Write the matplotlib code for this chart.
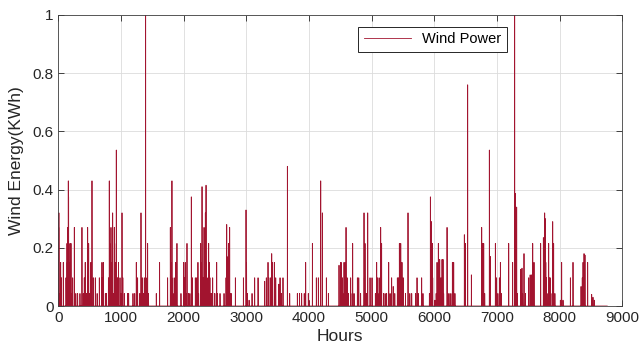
import numpy as np
import matplotlib
matplotlib.use("Agg")
import matplotlib.pyplot as plt

plt.rcParams['font.family'] = ['Liberation Sans', 'DejaVu Sans']

# hourly series over one year: zero except the spikes
n_hours = 8760
spike_hours = [
    6, 10, 20, 38, 50, 80, 123, 139, 145, 150, 160, 165, 175, 187, 195, 203, 210, 230, 256, 280,
    309, 346, 378, 400, 415, 430, 450, 469, 475, 485, 500, 520, 538, 560, 591, 620, 655, 697, 700, 719,
    751, 770, 800, 814, 820, 830, 841, 850, 860, 868, 880, 894, 900, 910, 926, 935, 948, 960, 985, 1000,
    1017, 1030, 1054, 1107,
    1123, 1192, 1220, 1245, 1266, 1300, 1320, 1341, 1360, 1373, 1394, 1400, 1426, 1440, 1564, 1617,
    1745, 1788, 1800, 1810, 1814, 1830, 1850, 1873, 1880, 1894, 1958, 2000, 2010, 2025, 2040, 2054,
    2080, 2100, 2123, 2140, 2187, 2210, 2229,
    2240, 2272, 2285, 2294, 2310, 2326, 2335, 2347, 2358, 2365, 2375, 2385, 2400, 2410, 2420, 2440,
    2450, 2464, 2495, 2520, 2528, 2540, 2581, 2645, 2677, 2688, 2690, 2700, 2709, 2715, 2720, 2735,
    2745, 2760, 2826, 2954, 2996, 3005, 3020, 3045, 3092, 3134, 3188, 3294, 3320, 3347, 3360,
    3390, 3406, 3420, 3448, 3470, 3520, 3539, 3560, 3586, 3656, 3693, 3815, 3850, 3884, 3925, 3948,
    3990, 4000, 4055, 4118, 4150, 4188, 4214, 4278, 4310, 4480, 4507,
    4512, 4535, 4540, 4560, 4570, 4580, 4592, 4600, 4610, 4630, 4666, 4690, 4698, 4720, 4773, 4795,
    4825, 4879, 4885, 4895, 4900, 4920, 4938, 4975, 5007, 5060, 5081, 5090, 5100, 5120, 5145, 5150,
    5160, 5190, 5215, 5240, 5273, 5295, 5320, 5345, 5370, 5411, 5430, 5443, 5450, 5465, 5470, 5485,
    5505, 5540, 5581, 5610, 5640,
    5703, 5725, 5745, 5799, 5820, 5922, 5938, 5940, 5954, 5960, 5969, 5975, 6010, 6030, 6044, 6050,
    6065, 6075, 6087, 6090, 6105, 6124, 6130, 6140, 6150, 6204, 6215, 6235, 6265, 6289, 6295, 6310,
    6330, 6480, 6497, 6533, 6592, 6757,
    6770, 6789, 6805, 6879, 6895, 6975, 6995, 7015, 7039, 7055, 7070, 7188, 7251, 7283, 7290, 7294,
    7300, 7310, 7315, 7325, 7379, 7400, 7410, 7432, 7455, 7507, 7530, 7550, 7560, 7571, 7592, 7698,
    7741, 7750, 7762, 7765, 7772, 7780, 7790, 7800, 7826, 7835, 7850, 7880, 7890,
    7905, 7925, 8012, 8033, 8055, 8172, 8214, 8342, 8362, 8374, 8390, 8405, 8448, 8512, 8533, 8555,
]
spike_values = [
    0.27, 0.32, 0.043, 0.15, 0.097, 0.15, 0.097, 0.215, 0.15, 0.27, 0.43, 0.375, 0.15, 0.215, 0.097, 0.215, 0.043, 0.097, 0.27, 0.043,
    0.043, 0.043, 0.27, 0.043, 0.097, 0.15, 0.043, 0.27, 0.097, 0.215, 0.043, 0.15, 0.43, 0.097, 0.097, 0.043, 0.097, 0.15, 0.097, 0.15,
    0.043, 0.043, 0.097, 0.43, 0.215, 0.15, 0.27, 0.097, 0.15, 0.32, 0.043, 0.27, 0.215, 0.15, 0.536, 0.097, 0.097, 0.15, 0.097, 0.043,
    0.32, 0.097, 0.043, 0.043,
    0.043, 0.043, 0.043, 0.15, 0.097, 0.043, 0.32, 0.097, 0.043, 0.097, 1.0, 0.097, 0.215, 0.043, 0.043, 0.15,
    0.097, 0.27, 0.15, 0.097, 0.43, 0.043, 0.097, 0.15, 0.097, 0.215, 0.043, 0.15, 0.097, 0.15, 0.043, 0.215,
    0.043, 0.043, 0.375, 0.097, 0.097, 0.097, 0.15,
    0.043, 0.215, 0.15, 0.41, 0.097, 0.27, 0.215, 0.32, 0.415, 0.15, 0.097, 0.043, 0.215, 0.15, 0.097, 0.043,
    0.043, 0.097, 0.043, 0.043, 0.15, 0.043, 0.043, 0.043, 0.097, 0.28, 0.097, 0.15, 0.17, 0.215, 0.097, 0.27,
    0.043, 0.043, 0.097, 0.097, 0.33, 0.15, 0.043, 0.02, 0.043, 0.097, 0.097, 0.085, 0.097, 0.15, 0.097,
    0.097, 0.18, 0.15, 0.15, 0.097, 0.075, 0.097, 0.043, 0.097, 0.48, 0.043, 0.043, 0.043, 0.043, 0.043, 0.15,
    0.043, 0.02, 0.215, 0.097, 0.097, 0.43, 0.32, 0.097, 0.043, 0.14, 0.15,
    0.15, 0.097, 0.043, 0.15, 0.097, 0.15, 0.27, 0.043, 0.097, 0.043, 0.097, 0.043, 0.215, 0.043, 0.097, 0.097,
    0.043, 0.32, 0.097, 0.215, 0.043, 0.043, 0.32, 0.097, 0.097, 0.043, 0.15, 0.097, 0.043, 0.097, 0.27, 0.097,
    0.215, 0.043, 0.043, 0.043, 0.15, 0.043, 0.097, 0.067, 0.043, 0.097, 0.097, 0.215, 0.15, 0.215, 0.043, 0.15,
    0.097, 0.043, 0.32, 0.043, 0.043,
    0.043, 0.097, 0.043, 0.097, 0.043, 0.043, 0.375, 0.215, 0.29, 0.097, 0.215, 0.097, 0.02, 0.043, 0.15, 0.043,
    0.215, 0.097, 0.16, 0.043, 0.097, 0.16, 0.097, 0.16, 0.043, 0.27, 0.043, 0.043, 0.043, 0.15, 0.097, 0.15,
    0.043, 0.245, 0.215, 0.76, 0.107, 0.27,
    0.215, 0.215, 0.043, 0.536, 0.17, 0.215, 0.097, 0.043, 0.097, 0.15, 0.043, 0.215, 0.15, 1.0, 0.043, 0.387,
    0.215, 0.097, 0.34, 0.043, 0.126, 0.13, 0.043, 0.18, 0.043, 0.097, 0.107, 0.107, 0.043, 0.215, 0.15, 0.215,
    0.235, 0.15, 0.32, 0.097, 0.30, 0.15, 0.097, 0.043, 0.215, 0.097, 0.097, 0.043, 0.29,
    0.215, 0.043, 0.02, 0.15, 0.02, 0.097, 0.15, 0.067, 0.097, 0.15, 0.18, 0.175, 0.15, 0.04, 0.03, 0.02,
]
x_ticks = [0, 1000, 2000, 3000, 4000, 5000, 6000, 7000, 8000, 9000]
y_ticks = [0, 0.2, 0.4, 0.6, 0.8, 1.0]
y_tick_labels = ['0', '0.2', '0.4', '0.6', '0.8', '1']

hours = np.arange(1, n_hours + 1)
energy = np.zeros(n_hours)
energy[np.array(spike_hours) - 1] = spike_values

fig = plt.figure(figsize=(6.39, 3.56), dpi=100)
ax = fig.add_axes([0.0912, 0.1404, 0.8826, 0.8175])

ax.plot(hours, energy, color='#A2142F', lw=0.6, label='Wind Power')

ax.set_xlim(0, 9000)
ax.set_ylim(0, 1)
ax.set_xticks(x_ticks)
ax.set_yticks(y_ticks)
ax.set_yticklabels(y_tick_labels)
ax.grid(True, color='#dcdcdc', lw=0.6)
ax.set_axisbelow(True)
ax.tick_params(direction='in', top=True, right=True, length=4, width=0.6,
               labelsize=11, colors='#262626')
for s in ax.spines.values():
    s.set_color('#404040')
    s.set_linewidth(0.6)

ax.set_xlabel('Hours', fontsize=12.5, color='#262626', labelpad=3)
ax.set_ylabel('Wind Energy(KWh)', fontsize=12.5, color='#262626', labelpad=6)

leg = ax.legend(loc='upper right', bbox_to_anchor=(0.796, 0.96), borderaxespad=0,
                fancybox=False, fontsize=10.5, handlelength=3.2, framealpha=1)
leg.get_frame().set_edgecolor('#262626')
leg.get_frame().set_linewidth(0.7)

fig.savefig('out.png', dpi=100)
